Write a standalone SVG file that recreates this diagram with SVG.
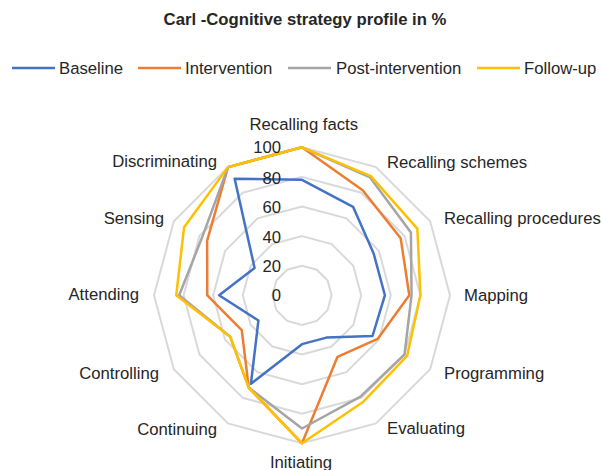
<svg xmlns="http://www.w3.org/2000/svg" width="601" height="470" viewBox="0 0 601 470">
<style>
text{font-family:"Liberation Sans",Arial,sans-serif;font-size:16.7px;fill:#262626}
.title{font-weight:bold;text-anchor:middle}
.grid{fill:none;stroke:#d9d9d9;stroke-width:2}
.s{fill:none;stroke-width:2.5;stroke-linejoin:round}
.b{stroke:#4472c4}.o{stroke:#ed7d31}.g{stroke:#a5a5a5}.y{stroke:#ffc000}
.tick{text-anchor:end}
.m{text-anchor:middle}.e{text-anchor:end}
</style>
<rect width="601" height="470" fill="#fff"/>
<g id="title"><text class="title" x="305" y="25">Carl -Cognitive strategy profile in %</text></g>
<g id="legend">
<line class="s b" x1="12" y1="68" x2="55" y2="68"/><text x="59" y="74">Baseline</text>
<line class="s o" x1="138" y1="68" x2="181" y2="68"/><text x="185" y="74">Intervention</text>
<line class="s g" x1="288" y1="68" x2="331" y2="68"/><text x="336" y="74">Post-intervention</text>
<line class="s y" x1="477" y1="68" x2="520" y2="68"/><text x="524" y="74">Follow-up</text>
</g>
<g id="grid" transform="translate(302 295.3)">
<polygon class="grid" points="0,-148 74,-128.17 128.17,-74 148,0 128.17,74 74,128.17 0,148 -74,128.17 -128.17,74 -148,0 -128.17,-74 -74,-128.17"/>
<polygon class="grid" points="0,-118.4 59.2,-102.54 102.54,-59.2 118.4,0 102.54,59.2 59.2,102.54 0,118.4 -59.2,102.54 -102.54,59.2 -118.4,0 -102.54,-59.2 -59.2,-102.54"/>
<polygon class="grid" points="0,-88.8 44.4,-76.9 76.9,-44.4 88.8,0 76.9,44.4 44.4,76.9 0,88.8 -44.4,76.9 -76.9,44.4 -88.8,0 -76.9,-44.4 -44.4,-76.9"/>
<polygon class="grid" points="0,-59.2 29.6,-51.27 51.27,-29.6 59.2,0 51.27,29.6 29.6,51.27 0,59.2 -29.6,51.27 -51.27,29.6 -59.2,0 -51.27,-29.6 -29.6,-51.27"/>
<polygon class="grid" points="0,-29.6 14.8,-25.63 25.63,-14.8 29.6,0 25.63,14.8 14.8,25.63 0,29.6 -14.8,25.63 -25.63,14.8 -29.6,0 -25.63,-14.8 -14.8,-25.63"/>
</g>
<g id="series" transform="translate(302 295.3)">
<polygon id="baseline" class="s b" points="0,-115.44 51.06,-88.44 71.77,-41.44 82.88,0 70.49,40.7 24.42,42.3 0,48.84 -51.06,88.44 -43.58,25.16 -82.88,0 -47.42,-27.38 -67.34,-116.64"/>
<polygon id="intervention" class="s o" points="0,-148 60.68,-105.1 98.69,-56.98 107.3,0 75.62,43.66 35.52,61.52 0,148 -53.28,92.28 -60.24,34.78 -94.72,0 -94.85,-54.76 -74,-128.17"/>
<polygon id="post" class="s g" points="0,-148 68.08,-117.92 108.95,-62.9 109.52,0 102.54,59.2 58.46,101.26 0,133.2 -53.28,92.28 -71.77,41.44 -122.84,0 -99.97,-57.72 -74,-128.17"/>
<polygon id="followup" class="s y" points="0,-148 68.82,-119.2 115.35,-66.6 118.4,0 105.1,60.68 61.42,106.38 0,148 -53.28,92.28 -71.77,41.44 -125.8,0 -117.92,-68.08 -74,-128.17"/>
</g>
<g id="ticks">
<text class="tick" x="281" y="153">100</text>
<text class="tick" x="281" y="183.5">80</text>
<text class="tick" x="281" y="213">60</text>
<text class="tick" x="281" y="242.5">40</text>
<text class="tick" x="281" y="272">20</text>
<text class="tick" x="281" y="301">0</text>
</g>
<g id="axis-labels">
<text class="m" x="303.8" y="130">Recalling facts</text>
<text x="387" y="167.7">Recalling schemes</text>
<text x="444" y="224.3">Recalling procedures</text>
<text x="464" y="301">Mapping</text>
<text x="444" y="378.7">Programming</text>
<text x="387" y="434.3">Evaluating</text>
<text class="m" x="301" y="467.7">Initiating</text>
<text class="e" x="217" y="435.3">Continuing</text>
<text class="e" x="159" y="378.7">Controlling</text>
<text class="e" x="139" y="300.3">Attending</text>
<text class="e" x="164" y="224.3">Sensing</text>
<text class="e" x="217" y="166.7">Discriminating</text>
</g>
</svg>
